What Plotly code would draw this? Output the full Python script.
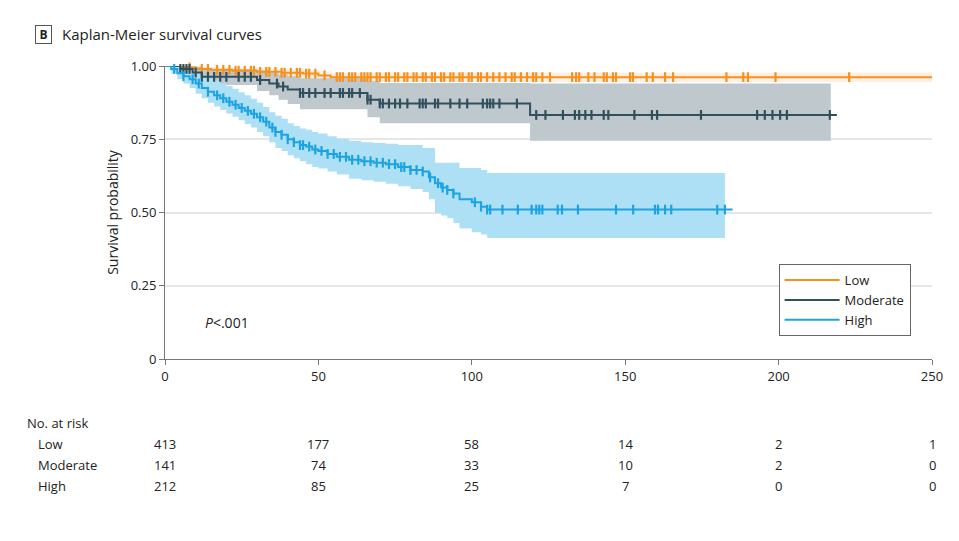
import numpy as np
import plotly.graph_objects as go

# --- Kaplan-Meier estimates (time in days) ---
low_t = [0, 5, 10, 15, 22, 30, 38, 45, 50, 54]
low_s = [1.0, 0.995, 0.99, 0.987, 0.984, 0.98, 0.977, 0.974, 0.968, 0.962]
low_lo = [1.0, 0.988, 0.980, 0.975, 0.970, 0.965, 0.960, 0.955, 0.950, 0.945]
low_hi = [1.0, 1.0, 0.998, 0.996, 0.994, 0.992, 0.990, 0.987, 0.982, 0.978]
low_end = 250

mod_t = [0, 5, 9, 12, 30, 34, 37, 40, 44, 66, 70, 119]
mod_s = [1.0, 0.99, 0.978, 0.963, 0.952, 0.94, 0.93, 0.92, 0.908, 0.885, 0.872, 0.833]
mod_lo = [1.0, 0.97, 0.95, 0.935, 0.915, 0.90, 0.885, 0.87, 0.852, 0.825, 0.805, 0.745]
mod_hi = [1.0, 1.0, 0.998, 0.99, 0.985, 0.978, 0.972, 0.965, 0.958, 0.948, 0.942, 0.94]
mod_end = 219
mod_band_end = 217

high_t = [0, 2, 4, 6, 8, 10, 12, 14, 16, 18, 20, 22, 24, 26, 28, 30, 32, 34, 36, 38,
          40, 42, 44, 46, 48, 50, 53, 56, 60, 64, 68, 72, 76, 80, 84, 86, 88, 90, 92,
          94, 96, 100, 103, 105]
high_s = [1.0, 0.99, 0.975, 0.965, 0.955, 0.94, 0.925, 0.912, 0.9, 0.89, 0.878, 0.868,
          0.857, 0.847, 0.837, 0.825, 0.81, 0.79, 0.775, 0.765, 0.75, 0.74, 0.73, 0.725,
          0.715, 0.71, 0.70, 0.69, 0.68, 0.675, 0.67, 0.665, 0.655, 0.645, 0.64, 0.62,
          0.60, 0.585, 0.577, 0.565, 0.545, 0.535, 0.52, 0.51]
high_lo = [1.0, 0.975, 0.955, 0.94, 0.925, 0.905, 0.89, 0.875, 0.862, 0.85, 0.838, 0.827,
           0.815, 0.802, 0.79, 0.775, 0.76, 0.74, 0.72, 0.71, 0.695, 0.685, 0.675, 0.665,
           0.655, 0.65, 0.64, 0.63, 0.615, 0.61, 0.605, 0.598, 0.59, 0.58, 0.57, 0.545,
           0.498, 0.49, 0.48, 0.464, 0.445, 0.433, 0.425, 0.413]
high_hi = [1.0, 1.0, 0.995, 0.99, 0.985, 0.975, 0.965, 0.958, 0.95, 0.94, 0.932, 0.922,
           0.91, 0.9, 0.888, 0.875, 0.86, 0.842, 0.83, 0.82, 0.805, 0.795, 0.787, 0.782,
           0.775, 0.77, 0.76, 0.752, 0.745, 0.74, 0.737, 0.735, 0.73, 0.73, 0.72, 0.72,
           0.67, 0.67, 0.67, 0.67, 0.652, 0.652, 0.645, 0.635]
high_end = 185
high_band_end = 182.5

# censoring times
low_cens = [8, 12, 14, 17, 19, 21, 23, 24, 26, 28, 29, 31, 33, 34, 36, 38, 39, 41, 43,
            44, 46, 47, 49, 52, 56, 57, 58, 60, 61, 62, 64, 65, 66, 67, 69, 70, 72, 73,
            75, 76, 78, 79, 81, 82, 84, 85, 87, 88, 90, 91, 93, 94, 96, 97, 99, 100,
            102, 103, 105, 107, 109, 111, 113, 114, 116, 118, 120, 121, 123, 125.5,
            132.7, 134, 135, 138, 140, 143, 144, 146, 147, 151.6, 152.5, 157, 159, 163,
            165.6, 183, 188.5, 190, 199, 223]
mod_cens = [5, 6, 7, 8, 10, 12, 14, 16, 18, 20, 24, 26, 28, 31, 36.5, 38.5, 44, 45, 47,
            49, 52, 54, 57, 58, 60, 61, 63.5, 66, 67, 70, 71, 73, 75, 76.6, 79, 83, 84,
            85, 88, 89, 93, 96, 98.5, 103.6, 105, 106, 107, 109, 114.7, 121, 124, 129.7,
            133.6, 135, 137, 139, 143, 144.5, 153, 158.7, 160.4, 174.7, 193, 195.5, 198,
            200.5, 202.7, 216.7]
high_cens = [3, 6, 9, 11, 14, 17, 19, 21, 23, 25, 27, 29, 31, 33, 35, 36, 38, 40, 42,
             44, 45, 47, 49, 51, 53, 55, 57, 59, 61, 63, 65, 67, 69, 71, 73, 75, 77, 78,
             80, 82, 84, 86.4, 89, 90.5, 92, 94, 101, 103, 105, 106, 110, 115, 119.5,
             121, 122, 123, 128, 129.4, 134.6, 147, 152.6, 159.7, 160.7, 163, 165, 180,
             182.5]

# numbers at risk
risk_times = [0, 50, 100, 150, 200, 250]
risk_groups = ["Low", "Moderate", "High"]
risk_low = [413, 177, 58, 14, 2, 1]
risk_mod = [141, 74, 33, 10, 2, 0]
risk_high = [212, 85, 25, 7, 0, 0]

C_LOW, C_MOD, C_HIGH = "#F5911E", "#31505D", "#1CA4E2"
B_LOW, B_MOD, B_HIGH = "rgba(250,205,160,0.3)", "#BEC8CD", "#AEE0F5"
FONT = "Open Sans, Liberation Sans, sans-serif"
TXT = "#222"


def step_at(ts, ss, t):
    i = np.searchsorted(np.array(ts), t, side="right") - 1
    return ss[max(i, 0)]


fig = go.Figure()


def add_band(ts, lo, hi, end, color):
    xs = list(ts) + [end]
    fig.add_trace(go.Scatter(x=xs, y=list(lo) + [lo[-1]], mode="lines", line_shape="hv",
                             line=dict(width=0), hoverinfo="skip", showlegend=False))
    fig.add_trace(go.Scatter(x=xs, y=list(hi) + [hi[-1]], mode="lines", line_shape="hv",
                             line=dict(width=0), fill="tonexty", fillcolor=color,
                             hoverinfo="skip", showlegend=False))


add_band(low_t, low_lo, low_hi, low_end, B_LOW)
add_band(mod_t, mod_lo, mod_hi, mod_band_end, B_MOD)
add_band(high_t, high_lo, high_hi, high_band_end, B_HIGH)

for name, ts, ss, end, cens, col in [
    ("Low", low_t, low_s, low_end, low_cens, C_LOW),
    ("Moderate", mod_t, mod_s, mod_end, mod_cens, C_MOD),
    ("High", high_t, high_s, high_end, high_cens, C_HIGH),
]:
    fig.add_trace(go.Scatter(x=list(ts) + [end], y=list(ss) + [ss[-1]], mode="lines",
                             line_shape="hv", line=dict(color=col, width=2), name=name,
                             cliponaxis=False))
    fig.add_trace(go.Scatter(x=cens, y=[step_at(ts, ss, c) for c in cens], mode="markers",
                             marker=dict(symbol="line-ns", size=7,
                                         line=dict(color=col, width=2.2)),
                             showlegend=False, hoverinfo="skip", cliponaxis=False))

# P value
fig.add_annotation(x=12.4, y=0.126, xref="x", yref="y", text="<i>P</i><.001",
                   showarrow=False, xanchor="left", yanchor="middle",
                   font=dict(size=14, color=TXT))

# panel letter box
fig.add_annotation(x=0, y=1, xref="paper", yref="paper", text="<b>B</b>", showarrow=False,
                   xanchor="left", yanchor="bottom", xshift=-130, yshift=22,
                   width=11, height=13, font=dict(size=12, color=TXT),
                   bordercolor="#555", borderwidth=1, borderpad=2, bgcolor="white")

# number at risk table (plot area bottom at 359 px, height 293 px)
px_y = lambda p: (359 - p) / 293.0
fig.add_annotation(x=0, y=px_y(423), xref="paper", yref="paper", text="No. at risk",
                   showarrow=False, xanchor="left", yanchor="middle", xshift=-140,
                   font=dict(size=13, color=TXT))
for k, (grp, vals) in enumerate(zip(risk_groups, [risk_low, risk_mod, risk_high])):
    ypos = px_y(444 + 21 * k)
    fig.add_annotation(x=0, y=ypos, xref="paper", yref="paper", text=grp, showarrow=False,
                       xanchor="left", yanchor="middle", xshift=-129,
                       font=dict(size=13, color=TXT))
    for t, v in zip(risk_times, vals):
        fig.add_annotation(x=t, y=ypos, xref="x", yref="paper", text=str(v),
                           showarrow=False, xanchor="center", yanchor="middle",
                           font=dict(size=13, color=TXT))

fig.update_layout(
    width=959, height=541,
    margin=dict(l=157, r=35, t=58, b=190),
    paper_bgcolor="white", plot_bgcolor="white",
    font=dict(family=FONT, size=13, color=TXT),
    title=dict(text="Kaplan-Meier survival curves", x=54 / 959, xanchor="left",
               y=1 - 27 / 541, yanchor="middle", font=dict(size=15, color=TXT)),
    legend=dict(x=0.8, y=0.324, xanchor="left", yanchor="top", bgcolor="white",
                bordercolor="#666", borderwidth=1, font=dict(size=13),
                traceorder="normal", itemwidth=55),
    showlegend=True,
)
fig.update_xaxes(range=[0, 250], tickvals=risk_times, showgrid=False, zeroline=False,
                 showline=True, linecolor="#777", linewidth=1, ticks="outside",
                 ticklen=5, tickcolor="#777", tickfont=dict(size=13))
fig.update_yaxes(range=[0, 1.0], tickvals=[0, 0.25, 0.5, 0.75, 1.0],
                 ticktext=["0", "0.25", "0.50", "0.75", "1.00"], showgrid=True,
                 gridcolor="#E6E6E6", gridwidth=1.5, zeroline=False, showline=True,
                 linecolor="#777", linewidth=1, ticks="outside", ticklen=5,
                 tickcolor="#777", title=dict(text="Survival probability", standoff=8,
                                               font=dict(size=14)))

fig.write_html("out.html")
